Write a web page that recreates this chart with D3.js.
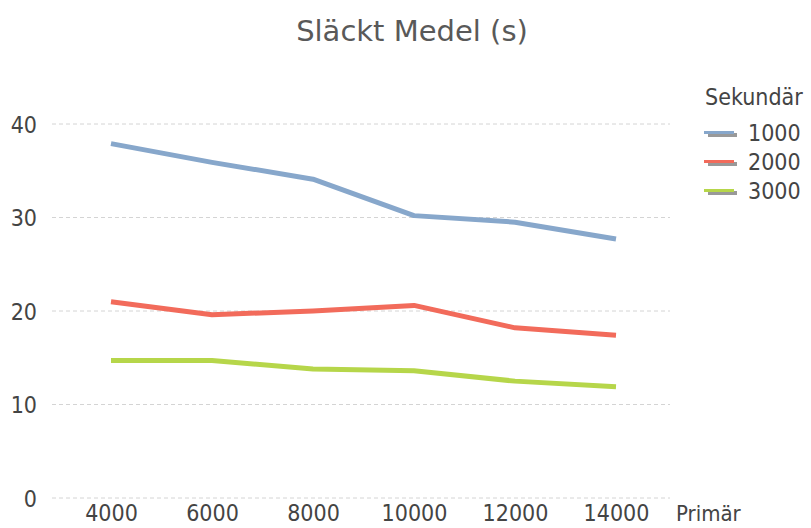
<!DOCTYPE html>
<html>
<head>
<meta charset="utf-8">
<script src="https://cdn.jsdelivr.net/npm/d3@7/dist/d3.min.js"></script>
<style>
  html, body { margin: 0; padding: 0; background: #fff; }
  svg { display: block; }
  text { font-family: "DejaVu Sans Condensed", "DejaVu Sans", sans-serif; }
</style>
</head>
<body>
<svg id="chart" width="811" height="528"></svg>
<script>
// Primär (x) categories and the three Sekundär series
const primar = [4000, 6000, 8000, 10000, 12000, 14000];
const sekundar = ["1000", "2000", "3000"];
const values1000 = [37.9, 35.9, 34.1, 30.2, 29.5, 27.7];
const values2000 = [21.0, 19.6, 20.0, 20.6, 18.2, 17.4];
const values3000 = [14.7, 14.7, 13.8, 13.6, 12.5, 11.9];
const yTicks = [0, 10, 20, 30, 40];
const colors = ["#87a7cb", "#f26b5b", "#b6d64a"];

const series = [values1000, values2000, values3000];

const svg = d3.select("#chart");

const x = d3.scalePoint().domain(primar).range([111, 616]);
const y = d3.scaleLinear().domain([0, 40]).range([498, 124]);

// Title
svg.append("text")
  .attr("x", 412).attr("y", 41)
  .attr("text-anchor", "middle")
  .attr("fill", "#595959")
  .style("font-family", "'DejaVu Sans', sans-serif")
  .style("font-size", "29px")
  .text("Släckt Medel (s)");

// Horizontal dashed gridlines
svg.append("g")
  .selectAll("line")
  .data(yTicks)
  .join("line")
  .attr("x1", 52).attr("x2", 670)
  .attr("y1", d => y(d)).attr("y2", d => y(d))
  .attr("stroke", "#d4d4d4")
  .attr("stroke-width", 1)
  .attr("stroke-dasharray", "4,3");

// Y axis labels
const yAxis = d3.axisLeft(y).tickValues(yTicks).tickSize(0).tickPadding(0);
const gy = svg.append("g").attr("transform", "translate(37,0)").call(yAxis);
gy.select(".domain").remove();
gy.selectAll("text")
  .attr("fill", "#444")
  .style("font-size", "23px")
  .attr("dy", "0.35em");

// X axis labels (baseline kept clear of the bottom edge)
const xAxis = d3.axisBottom(x).tickSize(0).tickPadding(0);
const gx = svg.append("g").attr("transform", "translate(0,521)").call(xAxis);
gx.select(".domain").remove();
gx.selectAll("text")
  .attr("fill", "#444")
  .style("font-size", "23px")
  .attr("dy", "0");

svg.append("text")
  .attr("x", 676).attr("y", 521)
  .attr("fill", "#444")
  .style("font-size", "22px")
  .text("Primär");

// Series lines
const line = d3.line()
  .x((d, i) => x(primar[i]))
  .y(d => y(d));

svg.append("g")
  .selectAll("path")
  .data(series)
  .join("path")
  .attr("d", line)
  .attr("fill", "none")
  .attr("stroke", (d, i) => colors[i])
  .attr("stroke-width", 5)
  .attr("stroke-linejoin", "round");

// Legend
const legend = svg.append("g");
legend.append("text")
  .attr("x", 705).attr("y", 105)
  .attr("fill", "#444")
  .style("font-size", "23px")
  .text("Sekundär");

const items = legend.selectAll("g.item")
  .data(sekundar)
  .join("g")
  .attr("class", "item")
  .attr("transform", (d, i) => `translate(0,${132 + i * 29})`);

items.append("rect")
  .attr("x", 708).attr("y", 1).attr("width", 29).attr("height", 4)
  .attr("fill", "#999");
items.append("rect")
  .attr("x", 704).attr("y", -1).attr("width", 30).attr("height", 3)
  .attr("fill", (d, i) => colors[i]);
items.append("text")
  .attr("x", 748).attr("y", 9)
  .attr("fill", "#444")
  .style("font-size", "23px")
  .text(d => d);
</script>
</body>
</html>
